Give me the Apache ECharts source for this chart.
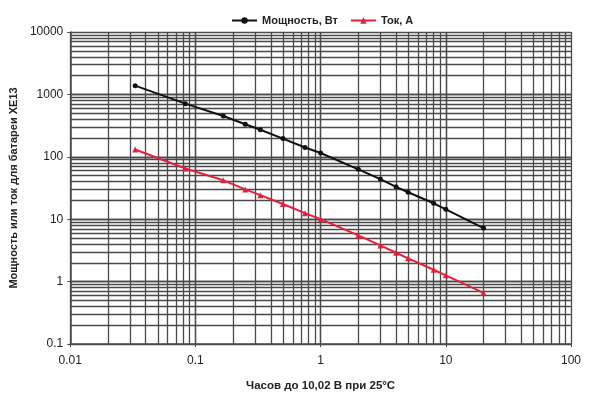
<!DOCTYPE html>
<html><head><meta charset="utf-8">
<script src="https://cdn.jsdelivr.net/npm/echarts@6/dist/echarts.min.js"></script>
<style>html,body{margin:0;padding:0;background:#fff}#c{width:597px;height:397px}</style>
</head><body><div id="c"></div>
<script>
const hours = [0.033, 0.083, 0.167, 0.25, 0.33, 0.5, 0.75, 1, 2, 3, 4, 5, 8, 10, 20];
const powerW = [1380, 711, 450, 333, 271, 196, 141, 115, 63, 44, 33, 27, 18, 14.4, 7.2];
const currentA = [131, 65, 42, 30, 24.3, 17.5, 12.5, 10, 5.5, 3.8, 2.9, 2.36, 1.55, 1.26, 0.66];
const xTicks = [0.01, 0.1, 1, 10, 100];
const yTicks = [0.1, 1, 10, 100, 1000, 10000];
const seriesNames = ['Мощность, Вт', 'Ток, А'];

function logGrid(ticks){
  const out = [];
  for (let i = 0; i < ticks.length - 1; i++) {
    for (let m = 2; m <= 9; m++) out.push(+(ticks[i] * m).toPrecision(3));
  }
  return out.concat(ticks.slice(1, -1));
}
const gridColor = '#4a4a4a';
const vLines = logGrid(xTicks).map(v => ({xAxis: v}));
const hLines = logGrid(yTicks).map(v => ({yAxis: v}));

const font = '"Liberation Sans", Arial, sans-serif';
const chart = echarts.init(document.getElementById('c'), null, {renderer: 'canvas'});
chart.setOption({
  animation: false,
  backgroundColor: '#fff',
  grid: {left: 69, right: 26, top: 32, bottom: 47},
  legend: {
    top: 10, left: 226, itemWidth: 25, itemHeight: 8, itemGap: 12,
    textStyle: {fontFamily: font, fontWeight: 'bold', fontSize: 11, color: '#222'},
    data: seriesNames
  },
  xAxis: {
    type: 'log', logBase: 10, min: 0.01, max: 100,
    name: 'Часов до 10,02 В при 25°C', nameLocation: 'middle', nameGap: 36,
    nameTextStyle: {fontFamily: font, fontWeight: 'bold', fontSize: 11.5, color: '#222'},
    axisLine: {show: true, lineStyle: {color: gridColor, width: 1.5}},
    axisTick: {show: true, length: 3, lineStyle: {color: gridColor}},
    axisLabel: {fontFamily: font, fontSize: 12, color: '#222', margin: 11,
      formatter: v => String(+v.toPrecision(3))},
    splitLine: {show: true, lineStyle: {color: gridColor, width: 1.3}}
  },
  yAxis: {
    type: 'log', logBase: 10, min: 0.1, max: 10000,
    name: 'Мощность или ток для батареи XE13', nameLocation: 'middle', nameGap: 50,
    nameTextStyle: {fontFamily: font, fontWeight: 'bold', fontSize: 11, color: '#222'},
    axisLine: {show: true, lineStyle: {color: gridColor, width: 1.5}},
    axisTick: {show: true, length: 3, lineStyle: {color: gridColor}},
    axisLabel: {fontFamily: font, fontSize: 12, color: '#222', margin: 7,
      formatter: v => String(+v.toPrecision(3))},
    splitLine: {show: true, lineStyle: {color: gridColor, width: 1.3}}
  },
  series: [
    {
      type: 'line', name: '_grid', data: [], silent: true, legendHoverLink: false,
      markLine: {silent: true, symbol: ['none', 'none'], label: {show: false},
        lineStyle: {color: gridColor, width: 1.3, type: 'solid'},
        emphasis: {disabled: true},
        data: vLines.concat(hLines)}
    },
    {
      type: 'line', name: seriesNames[0], data: hours.map((h, i) => [h, powerW[i]]),
      symbol: 'circle', symbolSize: 5, z: 5,
      lineStyle: {color: '#111', width: 2}, itemStyle: {color: '#111'}
    },
    {
      type: 'line', name: seriesNames[1], data: hours.map((h, i) => [h, currentA[i]]),
      symbol: 'triangle', symbolSize: 6, z: 5,
      lineStyle: {color: '#e4203c', width: 2}, itemStyle: {color: '#e4203c'}
    }
  ]
});
</script></body></html>
